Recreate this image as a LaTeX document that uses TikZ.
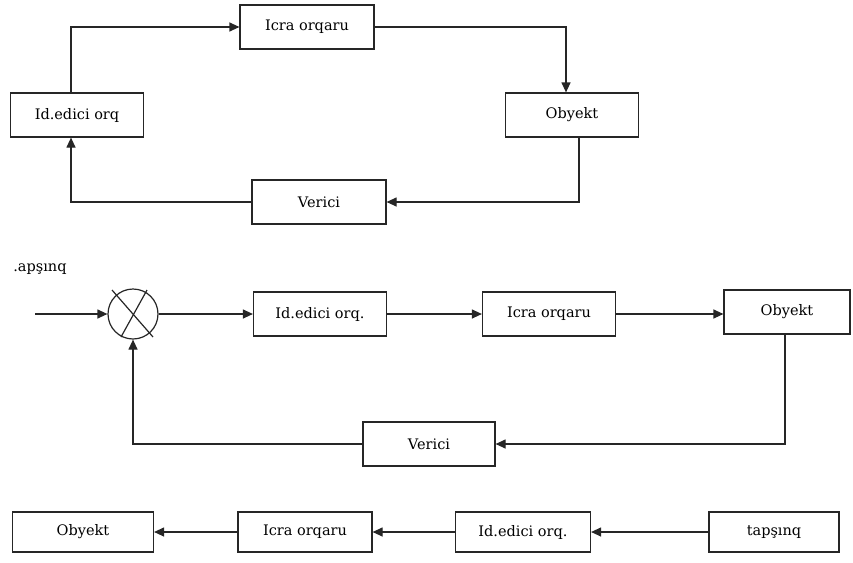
\documentclass[tikz,border=0pt]{standalone}
\usepackage{fontspec}
\setmainfont{DejaVu Serif}
\usetikzlibrary{arrows.meta,calc}
\begin{document}
\begin{tikzpicture}[x=1pt,y=-1pt,
  blk/.style={draw=black!85,line width=1.2pt,inner sep=0pt,font=\fontsize{14.5}{16}\selectfont},
  arr/.style={line width=1.2pt,draw=black!85,-{Triangle[length=10pt,width=9pt]}},
  ln/.style={line width=1.2pt,draw=black!85}]
\useasboundingbox (0,0) rectangle (853,562);
% top diagram
\node[blk,minimum width=134pt,minimum height=44pt] (icra1) at (307,27) {Icra orqaru};
\node[blk,minimum width=133pt,minimum height=44pt] (obj1) at (572,115) {Obyekt};
\node[blk,minimum width=133pt,minimum height=44pt] (id1) at (77,115) {Id.edici orq};
\node[blk,minimum width=134pt,minimum height=44pt] (ver1) at (319,202) {Verici};
\draw[arr] ([xshift=-6pt]id1.north) |- (icra1.west);
\draw[arr] (icra1.east) -| ([xshift=-6pt]obj1.north);
\draw[arr] ([xshift=7pt]obj1.south) |- (ver1.east);
\draw[arr] (ver1.west) -| ([xshift=-6pt]id1.south);
% middle diagram
\node[font=\fontsize{14.5}{16}\selectfont] (lab) at (40,269) {.apşınq};
\node[draw=black!85,line width=1.2pt,circle,minimum size=50pt,inner sep=0pt] (sum) at (133,314) {};
\draw[ln] ($(sum.center)+(-21,-24)$) -- ($(sum.center)+(20,23)$);
\draw[ln] ($(sum.center)+(14,-24)$) -- ($(sum.center)+(-12,23)$);
\coordinate (in) at (35,314);
\node[blk,minimum width=133pt,minimum height=44pt] (id2) at (320,314) {Id.edici orq.};
\node[blk,minimum width=133pt,minimum height=44pt] (icra2) at (549,314) {Icra orqaru};
\node[blk,minimum width=126pt,minimum height=44pt] (obj2) at (787,312) {Obyekt};
\node[blk,minimum width=132pt,minimum height=44pt] (ver2) at (429,444) {Verici};
\draw[arr] (in) -- (sum.west);
\draw[arr] (sum.east) -- (sum.east -| id2.west);
\draw[arr] (id2.east) -- (id2.east -| icra2.west);
\draw[arr] (icra2.east) -- (icra2.east -| obj2.west);
\draw[arr] ([xshift=-2pt]obj2.south) |- (ver2.east);
\draw[arr] (ver2.west) -| (sum.south);
% bottom diagram
\node[blk,minimum width=141pt,minimum height=40pt] (obj3) at (83,532) {Obyekt\hspace{24pt}};
\node[blk,minimum width=134pt,minimum height=40pt] (icra3) at (305,532) {Icra orqaru};
\node[blk,minimum width=135pt,minimum height=40pt] (id3) at (523,532) {Id.edici orq.};
\node[blk,minimum width=130pt,minimum height=40pt] (tap3) at (774,532) {tapşınq\hspace{16pt}};
\draw[arr] (tap3.west) -- (id3.east);
\draw[arr] (id3.west) -- (icra3.east);
\draw[arr] (icra3.west) -- (obj3.east);
\end{tikzpicture}
\end{document}
